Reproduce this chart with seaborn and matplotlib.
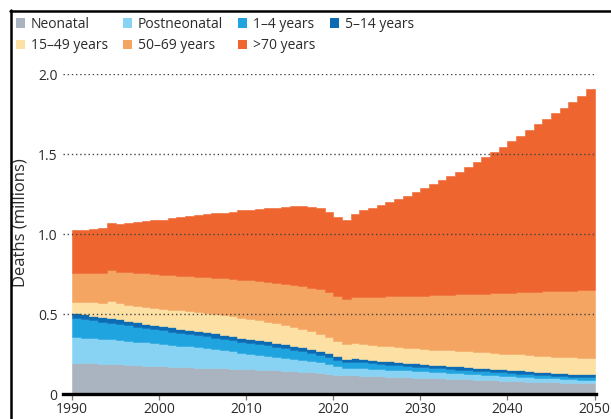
import numpy as np
import pandas as pd
import matplotlib
matplotlib.use("Agg")
import matplotlib.pyplot as plt
from matplotlib.patches import Patch
from matplotlib.lines import Line2D
import seaborn as sns

# ---------------- data (deaths, millions; one value per year 1990-2049) ----------------
years = list(range(1990, 2050))

neonatal = [0.195, 0.193, 0.191, 0.189, 0.187, 0.185, 0.182, 0.179, 0.176, 0.174,
            0.172, 0.170, 0.168, 0.166, 0.165, 0.163, 0.162, 0.160, 0.159, 0.157,
            0.155, 0.153, 0.151, 0.149, 0.146, 0.143, 0.140, 0.136, 0.132, 0.127,
            0.121, 0.117, 0.117, 0.115, 0.113, 0.111, 0.109, 0.107, 0.105, 0.103,
            0.101, 0.099, 0.097, 0.095, 0.093, 0.091, 0.089, 0.087, 0.085, 0.083,
            0.081, 0.079, 0.077, 0.075, 0.073, 0.072, 0.070, 0.069, 0.067, 0.066]

postneonatal = [0.160, 0.159, 0.158, 0.156, 0.155, 0.153, 0.151, 0.149, 0.147, 0.144,
                0.141, 0.138, 0.135, 0.132, 0.128, 0.124, 0.119, 0.114, 0.108, 0.102,
                0.097, 0.092, 0.087, 0.082, 0.078, 0.074, 0.071, 0.068, 0.065, 0.062,
                0.052, 0.045, 0.048, 0.047, 0.046, 0.045, 0.044, 0.043, 0.042, 0.041,
                0.040, 0.039, 0.038, 0.037, 0.036, 0.035, 0.034, 0.033, 0.032, 0.031,
                0.030, 0.029, 0.028, 0.027, 0.026, 0.025, 0.024, 0.023, 0.022, 0.022]

age_1_4 = [0.120, 0.116, 0.112, 0.108, 0.104, 0.100, 0.097, 0.093, 0.090, 0.087,
           0.084, 0.081, 0.079, 0.077, 0.075, 0.073, 0.072, 0.071, 0.070, 0.069,
           0.068, 0.067, 0.066, 0.064, 0.062, 0.060, 0.057, 0.053, 0.049, 0.044,
           0.040, 0.035, 0.038, 0.036, 0.034, 0.032, 0.030, 0.029, 0.028, 0.027,
           0.026, 0.025, 0.025, 0.024, 0.023, 0.023, 0.022, 0.022, 0.021, 0.021,
           0.020, 0.020, 0.019, 0.019, 0.018, 0.018, 0.017, 0.017, 0.016, 0.016]

age_5_14 = [0.030, 0.030, 0.029, 0.029, 0.029, 0.028, 0.028, 0.028, 0.027, 0.027,
            0.027, 0.027, 0.027, 0.026, 0.026, 0.026, 0.026, 0.026, 0.025, 0.025,
            0.025, 0.025, 0.025, 0.025, 0.025, 0.025, 0.025, 0.025, 0.024, 0.024,
            0.022, 0.021, 0.022, 0.022, 0.022, 0.021, 0.021, 0.021, 0.021, 0.021,
            0.021, 0.020, 0.020, 0.020, 0.020, 0.020, 0.020, 0.020, 0.019, 0.019,
            0.019, 0.019, 0.019, 0.019, 0.019, 0.018, 0.018, 0.018, 0.018, 0.018]

age_15_49 = [0.072, 0.077, 0.082, 0.088, 0.108, 0.100, 0.100, 0.103, 0.106, 0.108,
             0.110, 0.112, 0.113, 0.115, 0.116, 0.118, 0.120, 0.122, 0.124, 0.125,
             0.125, 0.125, 0.124, 0.122, 0.120, 0.118, 0.116, 0.111, 0.104, 0.097,
             0.095, 0.092, 0.095, 0.095, 0.094, 0.094, 0.094, 0.094, 0.094, 0.095,
             0.095, 0.095, 0.096, 0.096, 0.096, 0.097, 0.097, 0.098, 0.098, 0.099,
             0.099, 0.100, 0.100, 0.100, 0.101, 0.101, 0.102, 0.102, 0.103, 0.103]

age_50_69 = [0.180, 0.182, 0.184, 0.186, 0.189, 0.199, 0.202, 0.205, 0.208, 0.210,
             0.212, 0.215, 0.218, 0.221, 0.224, 0.227, 0.228, 0.230, 0.233, 0.237,
             0.241, 0.244, 0.247, 0.252, 0.256, 0.260, 0.264, 0.272, 0.281, 0.284,
             0.282, 0.285, 0.288, 0.293, 0.299, 0.306, 0.312, 0.317, 0.322, 0.326,
             0.332, 0.339, 0.343, 0.349, 0.355, 0.358, 0.364, 0.368, 0.375, 0.379,
             0.384, 0.388, 0.394, 0.399, 0.404, 0.409, 0.413, 0.417, 0.422, 0.425]

age_70_plus = [0.268, 0.271, 0.276, 0.282, 0.296, 0.297, 0.308, 0.317, 0.326, 0.336,
               0.344, 0.354, 0.364, 0.375, 0.384, 0.394, 0.403, 0.410, 0.421, 0.432,
               0.441, 0.452, 0.462, 0.471, 0.483, 0.492, 0.499, 0.503, 0.505, 0.497,
               0.493, 0.495, 0.517, 0.542, 0.557, 0.571, 0.590, 0.609, 0.628, 0.647,
               0.670, 0.693, 0.716, 0.739, 0.767, 0.796, 0.824, 0.852, 0.880, 0.913,
               0.947, 0.980, 1.013, 1.046, 1.079, 1.112, 1.146, 1.179, 1.212, 1.255]

age_groups = ["Neonatal", "Postneonatal", "1–4 years", "5–14 years",
              "15–49 years", "50–69 years", ">70 years"]
group_colors = ["#A9B4C0", "#88D3F3", "#20A4DF", "#0B6BB3",
                "#FDE0A3", "#F4A562", "#EE6530"]

x_ticks = [1990, 2000, 2010, 2020, 2030, 2040, 2050]
y_ticks = [0, 0.5, 1.0, 1.5, 2.0]
y_tick_labels = ["0", "0.5", "1.0", "1.5", "2.0"]
y_label = "Deaths (millions)"

# ---------------- long table ----------------
series = dict(zip(age_groups, [neonatal, postneonatal, age_1_4, age_5_14,
                               age_15_49, age_50_69, age_70_plus]))
rows = []
for g, vals in series.items():
    for yr, v in zip(years, vals):
        rows.append((yr, g, v))
df = pd.DataFrame(rows, columns=["year", "group", "deaths"])

# ---------------- style ----------------
sns.set_theme(style="white")
plt.rcParams["font.family"] = ["Open Sans", "DejaVu Sans"]
text_color = "#2b2b2b"

W, H = 611, 419
fig = plt.figure(figsize=(W / 100, H / 100), dpi=100)
ax = fig.add_axes([63 / W, (H - 394) / H, (596 - 63) / W, 320 / H])

palette = dict(zip(age_groups, group_colors))
sns.histplot(data=df, x="year", weights="deaths", hue="group",
             hue_order=age_groups[::-1], palette=palette,
             multiple="stack", element="step",
             binwidth=1, binrange=(years[0], years[-1] + 1), alpha=1,
             edgecolor="face", linewidth=0.4, legend=False, ax=ax)

ax.set_xlim(1988.97, 2050.17)
ax.set_ylim(0, 2.0)
ax.set_xticks(x_ticks)
ax.set_xticklabels([str(t) for t in x_ticks])
ax.set_yticks(y_ticks)
ax.set_yticklabels(y_tick_labels)
ax.set_xlabel("")
ax.set_ylabel(y_label, fontsize=12, color=text_color)
ax.yaxis.set_label_coords(-0.065, 0.535)

ax.set_axisbelow(False)
ax.yaxis.grid(True, linestyle=(0, (1, 2)), color="#444444", linewidth=1.0)
ax.xaxis.grid(False)

for s in ["left", "right", "top"]:
    ax.spines[s].set_visible(False)
ax.spines["bottom"].set_color("black")
ax.spines["bottom"].set_linewidth(2.4)
ax.spines["bottom"].set_zorder(5)

ax.tick_params(axis="x", which="both", bottom=True, length=4.5, width=0.9,
               color="#777777", direction="out", pad=1.5,
               labelsize=10, labelcolor=text_color)
ax.tick_params(axis="y", left=False, length=0, pad=4,
               labelsize=10, labelcolor=text_color)

# ---------------- legend ----------------
order = [0, 4, 1, 5, 2, 6, 3]
handles = [Patch(facecolor=group_colors[i], edgecolor="none") for i in order]
labels = [age_groups[i] for i in order]
fig.legend(handles, labels, ncol=4, loc="upper left",
           bbox_to_anchor=(16 / W, (H - 17) / H), frameon=False,
           fontsize=10, labelcolor=text_color,
           handlelength=0.65, handleheight=0.65, handletextpad=0.4,
           columnspacing=1.1, labelspacing=0.45, borderpad=0, borderaxespad=0)

# ---------------- panel frame (top and left rules) ----------------
fig.add_artist(Line2D([10 / W, 1.0], [(H - 11) / H, (H - 11) / H],
                      transform=fig.transFigure, color="black", linewidth=1.8))
fig.add_artist(Line2D([11 / W, 11 / W], [0, (H - 10) / H],
                      transform=fig.transFigure, color="black", linewidth=1.8))

fig.savefig("out.png", dpi=100)
